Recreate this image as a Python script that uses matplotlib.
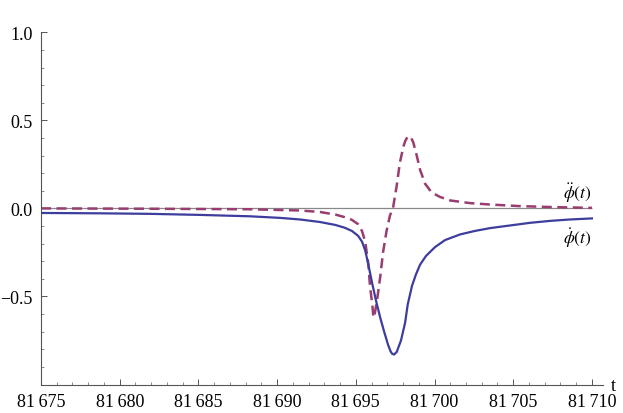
import numpy as np
import matplotlib
matplotlib.use('Agg')
import matplotlib.pyplot as plt
from matplotlib.ticker import FixedLocator, MultipleLocator

plt.rcParams['font.family'] = ['Liberation Serif', 'DejaVu Serif']
plt.rcParams['mathtext.fontset'] = 'stix'

# first derivative (solid)
t_dot = [81675.0, 81678.75, 81681.9, 81685.1, 81688.3, 81690.2, 81691.45, 81692.7,
         81693.7, 81694.3, 81694.75, 81695.15, 81695.4, 81695.6, 81695.8, 81696.05,
         81696.3, 81696.55, 81696.8, 81697.05, 81697.2, 81697.3, 81697.43, 81697.6,
         81697.87, 81698.13, 81698.3, 81698.57, 81698.82, 81699.08, 81699.46, 81700.03,
         81700.67, 81701.62, 81702.57, 81703.53, 81704.8, 81706.07, 81707.34, 81708.6,
         81710.0]
phi_dot = [-0.026, -0.028, -0.031, -0.037, -0.045, -0.054, -0.063, -0.077,
           -0.094, -0.11, -0.128, -0.156, -0.19, -0.24, -0.32, -0.43,
           -0.53, -0.62, -0.70, -0.775, -0.81, -0.825, -0.83, -0.815,
           -0.75, -0.65, -0.545, -0.44, -0.375, -0.32, -0.27, -0.22,
           -0.18, -0.148, -0.128, -0.112, -0.097, -0.082, -0.071, -0.063,
           -0.057]

# second derivative (dashed)
t_ddot = [81675.0, 81681.9, 81688.3, 81691.45, 81692.7, 81693.7, 81694.3, 81694.75,
          81695.15, 81695.4, 81695.6, 81695.8, 81695.9, 81696.05, 81696.12, 81696.2,
          81696.35, 81696.55, 81696.73, 81696.95, 81697.17, 81697.36, 81697.6, 81697.8,
          81698.02, 81698.15, 81698.28, 81698.4, 81698.52, 81698.65, 81698.87, 81699.08,
          81699.4, 81699.82, 81700.35, 81701.0, 81702.25, 81703.5, 81705.4, 81707.65,
          81710.0]
phi_ddot = [0.0, -0.002, -0.005, -0.012, -0.02, -0.035, -0.05, -0.065,
            -0.09, -0.13, -0.19, -0.32, -0.44, -0.55, -0.62, -0.60,
            -0.52, -0.39, -0.25, -0.13, -0.04, 0.0, 0.13, 0.26,
            0.35, 0.385, 0.405, 0.41, 0.40, 0.375, 0.30, 0.22,
            0.14, 0.09, 0.065, 0.045, 0.03, 0.022, 0.013, 0.007,
            0.003]

x_ticks = [81675, 81680, 81685, 81690, 81695, 81700, 81705, 81710]
x_labels = ['81\u2009675', '81\u2009680', '81\u2009685', '81\u2009690',
            '81\u2009695', '81\u2009700', '81\u2009705', '81\u2009710']
y_ticks = [-0.5, 0.0, 0.5, 1.0]
y_labels = ['\u22120.5', '0.0', '0.5', '1.0']

fig = plt.figure(figsize=(6.23, 4.14), dpi=100)
ax = fig.add_axes([0.0658, 0.0676, 0.902, 0.852])

ax.hlines(0, 81675, 81710, color='#888888', lw=0.9, zorder=1)
ax.plot(t_dot, phi_dot, color='#3d3d9e', lw=1.6, zorder=3)
ax.plot(t_ddot, phi_ddot, color='#993d70', lw=1.8, dashes=(4, 2.2), zorder=2)

ax.text(81709.1, 0.095, r'$\ddot{\phi}(t)$', fontsize=12.5, ha='center', va='center')
ax.text(81709.1, -0.165, r'$\dot{\phi}(t)$', fontsize=12.5, ha='center', va='center')

ax.set_xlim(81675, 81710.7)
ax.set_ylim(-1.003, 1.0)
for s in ['top', 'right']:
    ax.spines[s].set_visible(False)
for s in ['left', 'bottom']:
    ax.spines[s].set_color('#555555')
    ax.spines[s].set_linewidth(0.8)

ax.set_xticks(x_ticks)
ax.set_xticklabels(x_labels)
ax.set_yticks(y_ticks)
ax.set_yticklabels(y_labels)
ax.xaxis.set_minor_locator(MultipleLocator(1))
ax.yaxis.set_minor_locator(FixedLocator([v / 10 for v in range(-9, 10) if v % 5 != 0]))
ax.tick_params(which='major', direction='in', length=4, width=0.7, color='#555555',
               labelsize=13, pad=6)
ax.tick_params(which='minor', direction='in', length=2.5, width=0.6, color='#777777')

ax.annotate('t', xy=(1.0, 0), xycoords='axes fraction', xytext=(6, 0),
            textcoords='offset points', fontsize=13, va='center', ha='left')

fig.savefig('out.png', dpi=100)
